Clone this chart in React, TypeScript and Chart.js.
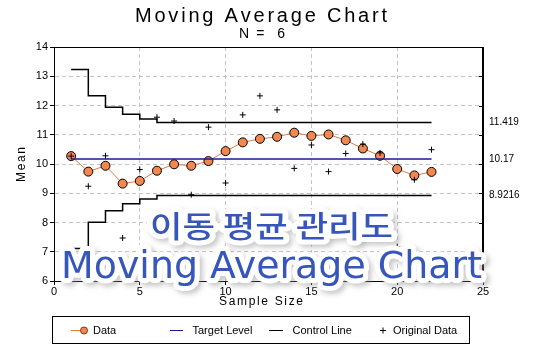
import React, { useEffect, useRef } from "react";
import { Chart, registerables } from "chart.js";

Chart.register(...registerables);

const sampleIndex = [1, 2, 3, 4, 5, 6, 7, 8, 9, 10, 11, 12, 13, 14, 15, 16, 17, 18, 19, 20, 21, 22];
const originalData = [10.27, 9.24, 10.28, 7.47, 9.81, 11.6, 11.47, 8.95, 11.26, 9.35, 11.68, 12.33, 11.85, 9.85, 10.65, 9.74, 10.36, 10.68, 10.38, 7.17, 9.46, 10.49];
const movingAverage = [10.27, 9.74, 9.94, 9.33, 9.42, 9.77, 9.99, 9.94, 10.1, 10.44, 10.74, 10.86, 10.93, 11.07, 10.96, 11.01, 10.81, 10.53, 10.28, 9.83, 9.61, 9.73];
const targetLevel = 10.17;
const controlSamples = [1, 2, 3, 4, 5, 6, 22];
const upperControl = [13.23, 12.33, 11.94, 11.7, 11.54, 11.419, 11.419];
const lowerControl = [7.11, 8.007, 8.404, 8.64, 8.8, 8.9216, 8.9216];
const rightTickValues = [8.9216, 10.17, 11.419];
const rightTickLabels = ["8.9216", "10.17", "11.419"];
const innerTickValues = [7, 8, 9, 10, 11, 12, 13];

const titleText = "Moving Average Chart";
const subtitleText = "N =  6";
const xTitle = "Sample Size";
const yTitle = "Mean";
const legendLabels = ["Data", "Target Level", "Control Line", "Original Data"];
const watermarkKo = "이동 평균 관리도";
const watermarkEn = "Moving Average Chart";

const FONT = '"Liberation Sans", Arial, sans-serif';
const ORANGE = "#f2874f";
const ORANGE_LINE = "#e07a45";
const NAVY = "#1a1a8c";

function spacedText(ctx: CanvasRenderingContext2D, text: string, left: number, right: number, y: number) {
  const chars = Array.from(text);
  const widths = chars.map((c) => ctx.measureText(c).width);
  const total = widths.reduce((a, b) => a + b, 0);
  const gap = chars.length > 1 ? (right - left - total) / (chars.length - 1) : 0;
  let x = left;
  ctx.textAlign = "left";
  chars.forEach((c, i) => {
    ctx.fillText(c, x, y);
    x += widths[i] + gap;
  });
}

function scaledText(ctx: CanvasRenderingContext2D, text: string, left: number, right: number, y: number, stroke = false) {
  const w = ctx.measureText(text).width;
  const sx = (right - left) / w;
  ctx.save();
  ctx.translate(left, y);
  ctx.scale(sx, 1);
  ctx.textAlign = "left";
  if (stroke) ctx.strokeText(text, 0, 0);
  else ctx.fillText(text, 0, 0);
  ctx.restore();
}

function drawWatermark(ctx: CanvasRenderingContext2D, text: string, font: string, left: number, right: number, y: number, baseline: CanvasTextBaseline) {
  ctx.save();
  ctx.font = font;
  ctx.textBaseline = baseline;
  ctx.lineJoin = "round";
  ctx.strokeStyle = "#ffffff";
  ctx.lineWidth = 10;
  ctx.shadowColor = "rgba(150,150,150,0.5)";
  ctx.shadowBlur = 5;
  ctx.shadowOffsetX = 3;
  ctx.shadowOffsetY = 3;
  scaledText(ctx, text, left, right, y, true);
  ctx.shadowColor = "transparent";
  ctx.lineWidth = 7;
  scaledText(ctx, text, left, right, y, true);
  ctx.fillStyle = "#3656bc";
  scaledText(ctx, text, left, right, y, false);
  ctx.restore();
}

const decorPlugin = {
  id: "decor",
  afterDraw(chart: any) {
    const ctx: CanvasRenderingContext2D = chart.ctx;
    const area = chart.chartArea;
    const yScale = chart.scales.y;
    ctx.save();

    // frame
    ctx.strokeStyle = "#000";
    ctx.lineWidth = 1;
    ctx.strokeRect(Math.round(area.left) + 0.5, Math.round(area.top) + 0.5, Math.round(area.right - area.left) - 1, Math.round(area.bottom - area.top));

    // inner ticks on right side
    ctx.beginPath();
    innerTickValues.forEach((v) => {
      const py = Math.round(yScale.getPixelForValue(v)) + 0.5;
      ctx.moveTo(area.right - 4, py);
      ctx.lineTo(area.right, py);
    });
    ctx.stroke();

    // titles
    ctx.fillStyle = "#000";
    ctx.textBaseline = "alphabetic";
    ctx.font = `20px ${FONT}`;
    spacedText(ctx, titleText, 135, 387, 22);
    ctx.font = `14px ${FONT}`;
    spacedText(ctx, subtitleText, 239, 285, 38);

    ctx.textBaseline = "middle";
    ctx.font = `12px ${FONT}`;
    spacedText(ctx, xTitle, 219, 303, 302);
    ctx.save();
    ctx.translate(22, 164.5);
    ctx.rotate(-Math.PI / 2);
    spacedText(ctx, yTitle, -17.5, 17.5, 0);
    ctx.restore();

    // watermark
    drawWatermark(ctx, watermarkKo, `500 30px "Noto Sans CJK KR", sans-serif`, 150, 393, 226, "middle");
    drawWatermark(ctx, watermarkEn, `37px "DejaVu Sans", sans-serif`, 61, 482, 278, "alphabetic");

    // legend
    ctx.strokeStyle = "#000";
    ctx.lineWidth = 1;
    ctx.strokeRect(52.5, 316.5, 417, 27);
    const ly = 330.5;
    ctx.strokeStyle = ORANGE_LINE;
    ctx.beginPath();
    ctx.moveTo(71, ly);
    ctx.lineTo(86, ly);
    ctx.stroke();
    ctx.beginPath();
    ctx.arc(84, ly, 3.5, 0, Math.PI * 2);
    ctx.fillStyle = ORANGE;
    ctx.fill();
    ctx.strokeStyle = "#7a3a1a";
    ctx.stroke();

    ctx.strokeStyle = NAVY;
    ctx.beginPath();
    ctx.moveTo(170, ly);
    ctx.lineTo(183, ly);
    ctx.stroke();

    ctx.strokeStyle = "#000";
    ctx.beginPath();
    ctx.moveTo(269, ly);
    ctx.lineTo(283, ly);
    ctx.stroke();

    ctx.beginPath();
    ctx.moveTo(380, ly);
    ctx.lineTo(386, ly);
    ctx.moveTo(383, ly - 3);
    ctx.lineTo(383, ly + 3);
    ctx.stroke();

    ctx.fillStyle = "#000";
    ctx.font = `11px ${FONT}`;
    ctx.textBaseline = "middle";
    ctx.textAlign = "left";
    const legendX = [93, 192.5, 292.5, 393];
    legendLabels.forEach((t, i) => ctx.fillText(t, legendX[i], ly + 0.5));

    ctx.restore();
  },
};

export default function App() {
  const ref = useRef<HTMLCanvasElement | null>(null);

  useEffect(() => {
    document.body.style.margin = "0";
    if (!ref.current) return;
    Chart.defaults.font.family = FONT;
    const pts = (ys: number[], xs: number[]) => ys.map((y, i) => ({ x: xs[i], y }));
    const chart = new Chart(ref.current, {
      type: "line",
      data: {
        datasets: [
          {
            label: "Original Data",
            data: pts(originalData, sampleIndex),
            showLine: false,
            pointStyle: "cross",
            pointRadius: 3,
            borderColor: "#000",
            backgroundColor: "#000",
            borderWidth: 1,
            order: 0,
          },
          {
            label: "Target Level",
            data: [
              { x: sampleIndex[0], y: targetLevel },
              { x: sampleIndex[sampleIndex.length - 1], y: targetLevel },
            ],
            borderColor: NAVY,
            borderWidth: 1.5,
            pointRadius: 0,
            order: 1,
          },
          {
            label: "Data",
            data: pts(movingAverage, sampleIndex),
            borderColor: ORANGE_LINE,
            borderWidth: 1,
            pointRadius: 4.5,
            pointBackgroundColor: ORANGE,
            pointBorderColor: "#000",
            pointBorderWidth: 1,
            order: 2,
          },
          {
            label: "UCL",
            data: pts(upperControl, controlSamples),
            borderColor: "#000",
            borderWidth: 1.5,
            pointRadius: 0,
            stepped: true,
            order: 3,
          },
          {
            label: "LCL",
            data: pts(lowerControl, controlSamples),
            borderColor: "#000",
            borderWidth: 1.5,
            pointRadius: 0,
            stepped: true,
            order: 3,
          },
        ],
      },
      options: {
        responsive: false,
        animation: false,
        layout: { padding: { top: 47, left: 0, right: 0, bottom: 0 } },
        plugins: {
          legend: { display: false },
          tooltip: { enabled: false },
          title: { display: false },
        },
        scales: {
          x: {
            type: "linear",
            min: 0,
            max: 25,
            ticks: { stepSize: 5, color: "#000", font: { size: 11 }, padding: 0, maxRotation: 0 },
            grid: { color: "#c4c4c4", tickColor: "#000", tickLength: 4, lineWidth: 1 },
            border: { color: "#000", dash: [4, 3] },
            afterFit: (s: any) => {
              s.height = 71;
            },
          },
          y: {
            type: "linear",
            position: "left",
            min: 6,
            max: 14,
            ticks: { stepSize: 1, color: "#000", font: { size: 11 }, padding: 2 },
            grid: { color: "#c4c4c4", tickColor: "#000", tickLength: 4, lineWidth: 1 },
            border: { color: "#000", dash: [4, 3] },
            afterFit: (s: any) => {
              s.width = 54;
            },
          },
          y2: {
            type: "linear",
            position: "right",
            min: 6,
            max: 14,
            afterBuildTicks: (s: any) => {
              s.ticks = rightTickValues.map((v) => ({ value: v }));
            },
            ticks: {
              color: "#000",
              font: { size: 10 },
              padding: 6,
              callback: (v: any) => {
                const i = rightTickValues.indexOf(Number(v));
                return i >= 0 ? rightTickLabels[i] : "";
              },
            },
            grid: { display: false, drawTicks: false },
            border: { color: "#000" },
            afterFit: (s: any) => {
              s.width = 55;
            },
          },
        },
      },
      plugins: [decorPlugin],
    });
    return () => chart.destroy();
  }, []);

  return (
    <div style={{ width: 538, height: 352, background: "#fff" }}>
      <canvas ref={ref} width={538} height={352} style={{ display: "block" }} />
    </div>
  );
}
